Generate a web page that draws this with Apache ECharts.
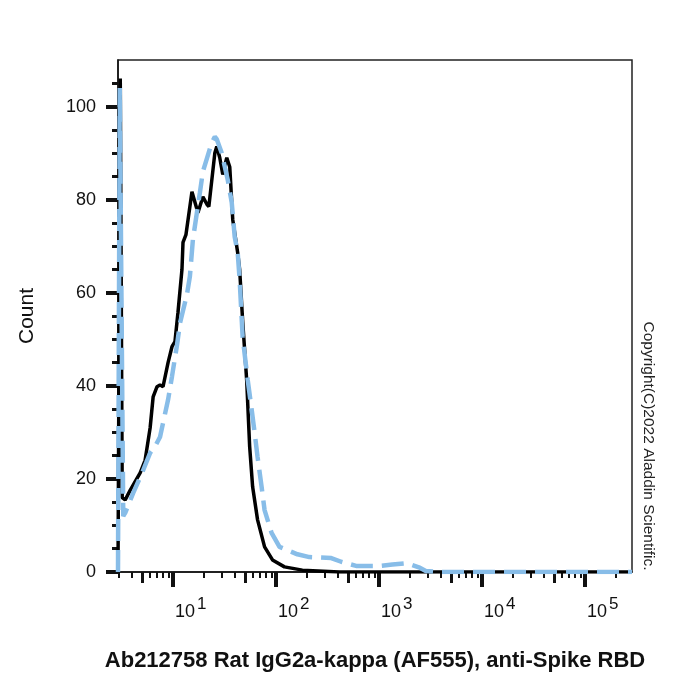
<!DOCTYPE html>
<html>
<head>
<meta charset="utf-8">
<script src="https://cdn.jsdelivr.net/npm/echarts@6/dist/echarts.min.js"></script>
<style>
  html, body { margin: 0; padding: 0; background: #fff; }
  #chart { width: 700px; height: 700px; }
</style>
</head>
<body>
<div id="chart"></div>
<script>
// x values are log10 positions on the (biexponential-like) fluorescence axis
const blackX = [0.466, 0.488, 0.507, 0.536, 0.585, 0.681, 0.729, 0.778, 0.807, 0.845, 0.874, 0.903, 0.952, 0.990,
  1.019, 1.048, 1.087, 1.097, 1.126, 1.184, 1.242, 1.290, 1.329, 1.348, 1.406, 1.425, 1.454, 1.483, 1.522, 1.551,
  1.580, 1.628, 1.647, 1.676, 1.715, 1.744, 1.773, 1.821, 1.889, 1.966, 2.082, 2.256, 2.614, 5.456];
const blackCount = [0, 106, 16, 15.5, 17.6, 21.3, 24, 31, 37.6, 39.8, 40.2, 39.8, 45, 48.4,
  49.5, 55.7, 65, 70.8, 72.5, 81.7, 77.2, 80.6, 79, 78.5, 90, 91.4, 89, 85.4, 89, 87,
  75.7, 68.6, 65, 54, 41.3, 27, 18.3, 11.2, 5.4, 2.6, 1.1, 0.4, 0, 0];

const blueX = [0.466, 0.483, 0.517, 0.536, 0.614, 0.700, 0.778, 0.826, 0.874, 0.903, 0.952, 0.990, 1.039, 1.068,
  1.135, 1.164, 1.193, 1.261, 1.290, 1.377, 1.406, 1.425, 1.473, 1.531, 1.570, 1.599, 1.628, 1.647, 1.676, 1.725,
  1.763, 1.792, 1.821, 1.860, 1.889, 1.957, 2.034, 2.111, 2.208, 2.324, 2.536, 2.633, 2.778, 3.000, 3.130, 3.271,
  3.387, 3.454, 3.580, 5.456];
const blueCount = [0, 104, 12, 12.7, 17, 21.3, 25.6, 27, 29, 32, 37, 42, 48.8, 53.5,
  59.6, 63.5, 71.4, 81.5, 86, 92.3, 93.5, 93, 90, 84.3, 79.4, 72, 68.6, 62.8, 50.5, 41.3,
  35, 30, 24.7, 18.3, 13.3, 8.4, 5.4, 4.7, 3.8, 3.2, 3.0, 2.2, 1.3, 1.3, 1.6, 1.9,
  1.0, 0.2, 0, 0];

const decades = [1, 2, 3, 4, 5];
const minorMult = [2, 3, 4, 6, 7, 8, 9];
const yMajor = [0, 20, 40, 60, 80, 100];

const xMin = 0.466, xMax = 5.456;
const font = 'Liberation Sans, Arial, sans-serif';

// tick positions in log space
let fives = [], minors = [];
for (let k = 0; k <= 5; k++) {
  let f = k + Math.log10(5);
  if (f > xMin && f < xMax) fives.push(f);
  minorMult.forEach(m => {
    let v = k + Math.log10(m);
    if (v > xMin && v < xMax) minors.push(v);
  });
}
let yMinor = [];
for (let v = 5; v <= 105; v += 5) {
  if (v % 20 !== 0) yMinor.push(v);
}

let chart = echarts.init(document.getElementById('chart'));

let hiddenX = {
  type: 'value', min: xMin, max: xMax, position: 'bottom', gridIndex: 0,
  axisLine: { show: false }, axisLabel: { show: false }, splitLine: { show: false }
};

let option = {
  animation: false,
  textStyle: { fontFamily: font },
  grid: {
    left: 118, right: 68, top: 60, bottom: 128,
    show: true, borderColor: '#222', borderWidth: 1.5
  },
  xAxis: [
    {
      type: 'value', min: xMin, max: xMax, position: 'bottom',
      name: 'Ab212758 Rat IgG2a-kappa (AF555), anti-Spike RBD',
      nameLocation: 'middle', nameGap: 78,
      nameTextStyle: { fontSize: 22, fontWeight: 'bold', color: '#111', fontFamily: font },
      axisLine: { lineStyle: { color: '#111', width: 1.5 } },
      axisTick: { customValues: decades, length: 15, lineStyle: { color: '#111', width: 4 } },
      axisLabel: {
        customValues: decades, margin: 24, align: 'left', padding: [0, 0, 0, 2],
        formatter: v => '10{sup|' + v + '}',
        fontSize: 18, color: '#111', fontFamily: font,
        rich: { sup: { fontSize: 17, color: '#111', fontFamily: font, padding: [0, 0, 16, 2] } }
      },
      splitLine: { show: false }
    },
    Object.assign({}, hiddenX, {
      axisTick: { customValues: fives, length: 11, lineStyle: { color: '#111', width: 3 } }
    }),
    Object.assign({}, hiddenX, {
      axisTick: { customValues: minors, length: 6, lineStyle: { color: '#111', width: 2 } }
    })
  ],
  yAxis: [
    {
      type: 'value', min: 0, max: 110, position: 'left',
      name: 'Count', nameLocation: 'middle', nameGap: 80, nameRotate: 90,
      nameTextStyle: { fontSize: 21, color: '#111', fontFamily: font },
      axisLine: { show: true, lineStyle: { color: '#111', width: 1.5 } },
      axisTick: { show: true, customValues: yMajor, length: 12, lineStyle: { color: '#111', width: 4 } },
      axisLabel: { customValues: yMajor, margin: 22, fontSize: 18, color: '#111', fontFamily: font },
      splitLine: { show: false }
    },
    {
      type: 'value', min: 0, max: 110, position: 'left', offset: 0,
      axisLine: { show: false },
      axisTick: { show: true, customValues: yMinor, length: 6, lineStyle: { color: '#111', width: 3 } },
      axisLabel: { show: false },
      splitLine: { show: false }
    }
  ],
  graphic: [
    {
      type: 'text', x: 648, y: 446, rotation: -Math.PI / 2,
      style: {
        text: 'Copyright(C)2022 Aladdin Scientific.',
        fontSize: 15.5, fontFamily: font, fill: '#222',
        textAlign: 'center', textVerticalAlign: 'middle'
      }
    }
  ],
  series: [
    {
      type: 'line', xAxisIndex: 0, yAxisIndex: 0,
      data: blackX.map((x, i) => [x, blackCount[i]]),
      showSymbol: false, z: 3,
      lineStyle: { color: '#000', width: 3.5 }
    },
    {
      type: 'line', xAxisIndex: 0, yAxisIndex: 0,
      data: blueX.map((x, i) => [x, blueCount[i]]),
      showSymbol: false, z: 4,
      lineStyle: { color: '#88bde8', width: 4.5, type: [22, 9] }
    }
  ]
};

chart.setOption(option);
</script>
</body>
</html>
